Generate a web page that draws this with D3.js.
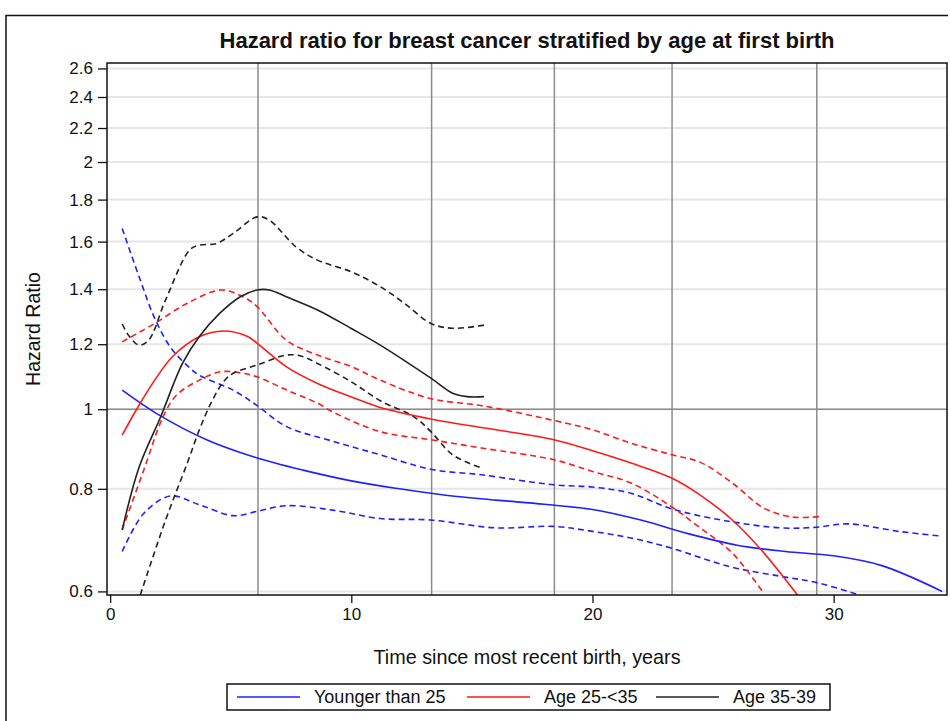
<!DOCTYPE html>
<html>
<head>
<meta charset="utf-8">
<script src="https://cdn.jsdelivr.net/npm/d3@7"></script>
<style>
  body { margin: 0; background: #fff; }
  text { font-family: "Liberation Sans", Arial, sans-serif; fill: #111; }
</style>
</head>
<body>
<svg width="950" height="721"></svg>
<script>
// ticks
const yTicks = [0.6, 0.8, 1, 1.2, 1.4, 1.6, 1.8, 2, 2.2, 2.4, 2.6];
const xTicks = [0, 10, 20, 30];
// vertical reference lines (years)
const refLines = [6.13, 13.33, 18.42, 23.3, 29.3];

// Younger than 25
const youngT   = [0.5, 2, 4, 6, 8, 10, 12, 14, 16, 18, 20, 22, 24, 26, 28, 30, 32, 34.5];
const youngHR  = [1.055, 0.985, 0.918, 0.874, 0.843, 0.818, 0.800, 0.785, 0.775, 0.766, 0.755, 0.733, 0.705, 0.683, 0.671, 0.663, 0.645, 0.600];
const youngUpT = [0.5, 1.2, 1.85, 2.5, 3.2, 3.7, 5.1, 6.1, 7.3, 9.3, 11.2, 13.3, 15.4, 18.4, 20, 21.6, 23.3, 25.7, 27.8, 29.2, 30.6, 32.7, 34.4];
const youngUp  = [1.66, 1.45, 1.29, 1.19, 1.13, 1.10, 1.055, 1.01, 0.953, 0.913, 0.880, 0.845, 0.832, 0.809, 0.804, 0.790, 0.756, 0.730, 0.717, 0.718, 0.725, 0.710, 0.701];
const youngLoT = [0.5, 1.4, 2.5, 3.7, 5.1, 6.1, 7.3, 9.3, 11.2, 13.3, 16, 18.4, 20, 21.6, 23.3, 25.7, 27.8, 29.3, 31];
const youngLo  = [0.671, 0.747, 0.784, 0.765, 0.742, 0.751, 0.763, 0.753, 0.736, 0.733, 0.717, 0.720, 0.710, 0.697, 0.677, 0.643, 0.626, 0.615, 0.595];

// Age 25-<35
const midT   = [0.5, 1.1, 1.85, 2.6, 3.7, 4.7, 5.7, 6.1, 7.3, 8.6, 10, 11.2, 13.3, 16, 18.4, 20, 21.6, 23.3, 24.5, 25.8, 27, 28.5];
const midHR  = [0.93, 1.0, 1.085, 1.16, 1.225, 1.245, 1.226, 1.203, 1.127, 1.075, 1.035, 1.005, 0.973, 0.944, 0.918, 0.89, 0.86, 0.824, 0.785, 0.733, 0.674, 0.594];
const midUpT = [0.5, 1.85, 3.2, 4.6, 5.5, 6.1, 7.3, 8.6, 10, 11.2, 13.3, 15.4, 18.4, 20, 21.6, 23.3, 24.5, 25.8, 27.1, 28.3, 29.4];
const midUp  = [1.208, 1.272, 1.346, 1.397, 1.371, 1.333, 1.214, 1.164, 1.127, 1.085, 1.03, 1.01, 0.969, 0.944, 0.909, 0.88, 0.861, 0.813, 0.758, 0.739, 0.740];
const midLoT = [0.5, 1.4, 2.2, 2.75, 3.7, 4.6, 5.5, 6.1, 7.3, 8.6, 9.3, 11.2, 13.3, 15.4, 18.4, 20, 21.6, 23.3, 24.3, 25.8, 27.1];
const midLo  = [0.713, 0.844, 0.98, 1.04, 1.085, 1.111, 1.106, 1.095, 1.056, 1.017, 0.99, 0.939, 0.918, 0.897, 0.868, 0.84, 0.813, 0.76, 0.723, 0.668, 0.597];

// Age 35-39
const oldT   = [0.5, 1.2, 2.1, 3.0, 3.7, 4.55, 5.4, 6.1, 6.6, 7.3, 8.6, 10, 11.2, 13.3, 14.2, 14.8, 15.5];
const oldHR  = [0.713, 0.85, 0.98, 1.137, 1.226, 1.309, 1.371, 1.397, 1.397, 1.371, 1.321, 1.254, 1.197, 1.091, 1.046, 1.036, 1.036];
const oldUpT = [0.5, 0.8, 1.2, 1.6, 2.3, 3.3, 3.7, 4.4, 5.1, 6.1, 6.6, 7.7, 8.6, 10, 11.2, 12.2, 13.3, 14.2, 15.5];
const oldUp  = [1.27, 1.226, 1.197, 1.214, 1.359, 1.563, 1.584, 1.591, 1.637, 1.715, 1.699, 1.577, 1.519, 1.470, 1.410, 1.346, 1.272, 1.255, 1.266];
const oldLoT = [1.25, 2.3, 3.2, 3.7, 4.2, 4.7, 5.1, 6.1, 7.3, 7.9, 8.6, 10, 11.2, 12.6, 13.3, 14.2, 15.4];
const oldLo  = [0.594, 0.733, 0.86, 0.944, 1.02, 1.08, 1.106, 1.132, 1.164, 1.161, 1.137, 1.08, 1.024, 0.979, 0.939, 0.88, 0.848];

const legendNames = ["Younger than 25", "Age 25-<35", "Age 35-39"];
const colors = ["#2020ff", "#ff1a1a", "#222222"];

const svg = d3.select("svg");
const margin = { left: 107, top: 63, right: 947, bottom: 595 };

const x = d3.scaleLinear().domain([-0.13, 34.7]).range([margin.left, margin.right]);
const y = d3.scaleLog().domain([0.594, 2.64]).range([margin.bottom, margin.top]);

// outer frame (only top and left show in the picture)
svg.append("path")
    .attr("d", "M6,721 L6,15.5 L948,15.5")
    .attr("fill", "none")
    .attr("stroke", "#111")
    .attr("stroke-width", 1.5);

// title
svg.append("text")
    .attr("x", (margin.left + margin.right) / 2)
    .attr("y", 48)
    .attr("text-anchor", "middle")
    .attr("font-size", 22)
    .attr("font-weight", "bold")
    .text("Hazard ratio for breast cancer stratified by age at first birth");

// horizontal gridlines
svg.append("g").selectAll("line")
    .data(yTicks)
    .join("line")
    .attr("x1", margin.left).attr("x2", margin.right)
    .attr("y1", d => y(d)).attr("y2", d => y(d))
    .attr("stroke", "#e6e6e6")
    .attr("stroke-width", 2);

// reference lines
svg.append("g").selectAll("line")
    .data(refLines)
    .join("line")
    .attr("x1", d => x(d)).attr("x2", d => x(d))
    .attr("y1", margin.top).attr("y2", margin.bottom)
    .attr("stroke", "#8c8c8c")
    .attr("stroke-width", 1.5);

svg.append("line")
    .attr("x1", margin.left).attr("x2", margin.right)
    .attr("y1", y(1)).attr("y2", y(1))
    .attr("stroke", "#8c8c8c")
    .attr("stroke-width", 1.5);

// clip for curves
svg.append("clipPath").attr("id", "plotClip")
    .append("rect")
    .attr("x", margin.left).attr("y", margin.top)
    .attr("width", margin.right - margin.left)
    .attr("height", margin.bottom - margin.top);

const line = d3.line()
    .x(d => x(d[0]))
    .y(d => y(d[1]))
    .curve(d3.curveCatmullRom.alpha(0.5));

const series = [
    { t: youngUpT, v: youngUp, c: 0, dash: true },
    { t: youngLoT, v: youngLo, c: 0, dash: true },
    { t: midUpT, v: midUp, c: 1, dash: true },
    { t: midLoT, v: midLo, c: 1, dash: true },
    { t: oldUpT, v: oldUp, c: 2, dash: true },
    { t: oldLoT, v: oldLo, c: 2, dash: true },
    { t: youngT, v: youngHR, c: 0, dash: false },
    { t: midT, v: midHR, c: 1, dash: false },
    { t: oldT, v: oldHR, c: 2, dash: false }
];

const curves = svg.append("g").attr("clip-path", "url(#plotClip)");
series.forEach(s => {
    curves.append("path")
        .attr("d", line(s.t.map((t, i) => [t, s.v[i]])))
        .attr("fill", "none")
        .attr("stroke", colors[s.c])
        .attr("stroke-width", 1.6)
        .attr("stroke-dasharray", s.dash ? "6,4" : null);
});

// plot frame
svg.append("rect")
    .attr("x", margin.left).attr("y", margin.top)
    .attr("width", margin.right - margin.left)
    .attr("height", margin.bottom - margin.top)
    .attr("fill", "none")
    .attr("stroke", "#111")
    .attr("stroke-width", 1.5);

// axes
const yAxis = svg.append("g")
    .attr("transform", `translate(${margin.left},0)`)
    .call(d3.axisLeft(y).tickValues(yTicks).tickFormat(d3.format("~g")).tickSize(9).tickPadding(5));
const xAxis = svg.append("g")
    .attr("transform", `translate(0,${margin.bottom})`)
    .call(d3.axisBottom(x).tickValues(xTicks).tickSize(8).tickPadding(5));

[yAxis, xAxis].forEach(g => {
    g.select(".domain").remove();
    g.selectAll("line").attr("stroke", "#111").attr("stroke-width", 1.3);
    g.selectAll("text").attr("font-size", 17).attr("fill", "#111")
        .attr("font-family", "Liberation Sans, Arial, sans-serif");
});

// axis labels
svg.append("text")
    .attr("x", (margin.left + margin.right) / 2)
    .attr("y", 664)
    .attr("text-anchor", "middle")
    .attr("font-size", 19.8)
    .text("Time since most recent birth, years");

svg.append("text")
    .attr("transform", `translate(40,${(margin.top + margin.bottom) / 2}) rotate(-90)`)
    .attr("text-anchor", "middle")
    .attr("font-size", 19.5)
    .text("Hazard Ratio");

// legend
const legend = svg.append("g");
legend.append("rect")
    .attr("x", 227).attr("y", 684)
    .attr("width", 603).attr("height", 26)
    .attr("fill", "#fff")
    .attr("stroke", "#111")
    .attr("stroke-width", 1.5);

const legendX = [237, 467, 656];
legendNames.forEach((name, i) => {
    legend.append("line")
        .attr("x1", legendX[i]).attr("x2", legendX[i] + 63)
        .attr("y1", 697).attr("y2", 697)
        .attr("stroke", colors[i])
        .attr("stroke-width", 1.5);
    legend.append("text")
        .attr("x", legendX[i] + 77)
        .attr("y", 703)
        .attr("font-size", 18)
        .text(name);
});
</script>
</body>
</html>
